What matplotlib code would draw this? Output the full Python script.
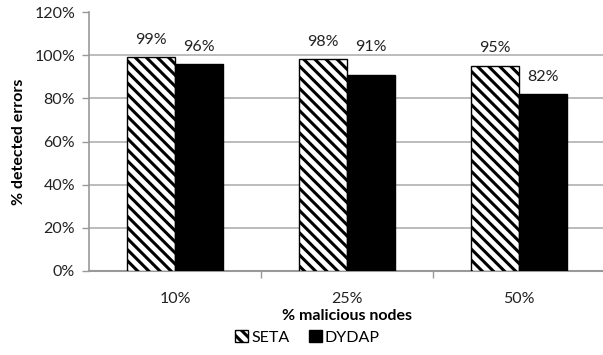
import matplotlib.pyplot as plt
import numpy as np

plt.rcParams['font.family'] = ['Lato', 'DejaVu Sans']
plt.rcParams['hatch.linewidth'] = 2.2

categories = ['10%', '25%', '50%']
seta = [99, 98, 95]
dydap = [96, 91, 82]
# heights (in axis units) where the value labels sit
seta_label_y = [107, 106, 103.3]
dydap_label_y = [103.8, 103.9, 90]
yticks = [0, 20, 40, 60, 80, 100, 120]

fig = plt.figure(figsize=(6.03, 3.55), dpi=100)
ax = fig.add_axes([89 / 603, 84 / 355, 516 / 603, 259 / 355])

x = np.arange(len(categories))
w = 0.28
b1 = ax.bar(x - w / 2, seta, w, color='white', edgecolor='black',
            hatch='\\\\\\', linewidth=1.0, zorder=3, label='SETA')
b2 = ax.bar(x + w / 2, dydap, w, color='black', edgecolor='black',
            linewidth=1.0, zorder=3, label='DYDAP')

fs = 11.5
for xi, v, ly in zip(x, seta, seta_label_y):
    ax.text(xi - w / 2, ly, f'{v}%', ha='center', va='center', fontsize=fs, color='#222222')
for xi, v, ly in zip(x, dydap, dydap_label_y):
    ax.text(xi + w / 2, ly, f'{v}%', ha='center', va='center', fontsize=fs, color='#222222')

ax.set_xlim(-0.5, 2.5)
ax.set_ylim(0, 120)
ax.set_yticks(yticks)
ax.set_yticklabels([f'{t}%' for t in yticks], fontsize=fs, color='#222222')
ax.set_xticks(x)
ax.set_xticklabels(categories, fontsize=fs, color='#222222')
ax.set_xticks([0.5, 1.5], minor=True)
ax.tick_params(axis='x', which='major', length=0, pad=15)
ax.tick_params(axis='x', which='minor', length=5, color='#999999', width=1)
ax.tick_params(axis='y', length=5, color='#999999', width=1, pad=5)

for t in yticks[1:-1]:
    ax.axhline(t, color='#b0b0b0', linewidth=1.2, zorder=1)

for s in ['top', 'right']:
    ax.spines[s].set_visible(False)
ax.spines['left'].set_color('#999999')
ax.spines['bottom'].set_color('#999999')
ax.spines['left'].set_linewidth(1.2)
ax.spines['bottom'].set_linewidth(1.5)

ax.set_xlabel('% malicious nodes', fontsize=fs, fontweight='bold', labelpad=2)
ax.set_ylabel('% detected errors', fontsize=fs, fontweight='bold', labelpad=6)

fig.legend(handles=[b1, b2], loc='center', bbox_to_anchor=(0.51, 0.05), ncol=2,
           frameon=False, fontsize=fs, handlelength=0.8, handleheight=0.8,
           handletextpad=0.2, columnspacing=1.2, borderaxespad=0)

fig.savefig('out.png', dpi=100)
